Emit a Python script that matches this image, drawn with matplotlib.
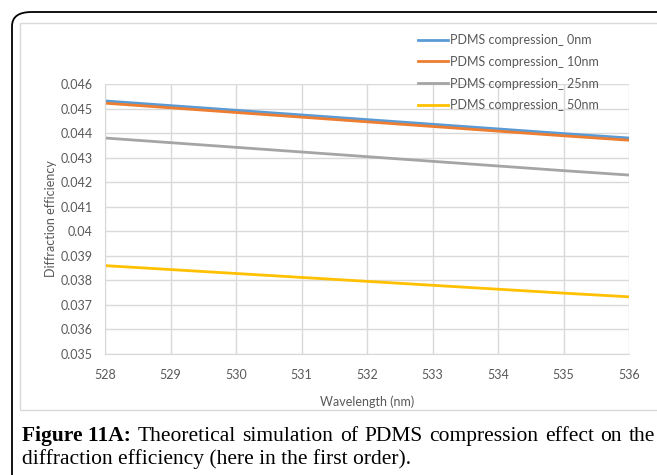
import matplotlib
matplotlib.use("Agg")
import matplotlib.pyplot as plt
from matplotlib.patches import FancyBboxPatch, Rectangle

wavelength = [528, 529, 530, 531, 532, 533, 534, 535, 536]
eff_0nm = [0.04531, 0.04512, 0.04493, 0.04474, 0.04455, 0.04436, 0.04417, 0.04398, 0.04380]
eff_10nm = [0.04522, 0.04503, 0.04484, 0.04465, 0.04446, 0.04427, 0.04408, 0.04389, 0.04371]
eff_25nm = [0.04380, 0.04361, 0.04342, 0.04323, 0.04304, 0.04285, 0.04266, 0.04247, 0.04229]
eff_50nm = [0.03860, 0.03844, 0.03828, 0.03812, 0.03796, 0.03780, 0.03764, 0.03748, 0.03733]
labels = ["PDMS compression_ 0nm", "PDMS compression_ 10nm",
          "PDMS compression_ 25nm", "PDMS compression_ 50nm"]
colors = ["#5B9BD5", "#ED7D31", "#A5A5A5", "#FFC000"]
yticks = [0.035, 0.036, 0.037, 0.038, 0.039, 0.04, 0.041, 0.042, 0.043, 0.044, 0.045, 0.046]
ytick_labels = ["0.035", "0.036", "0.037", "0.038", "0.039", "0.04", "0.041",
                "0.042", "0.043", "0.044", "0.045", "0.046"]
caption_bold = "Figure 11A:"
caption_line1_words = ["Theoretical", "simulation", "of", "PDMS", "compression",
                       "effect", "on", "the"]
caption_line2 = "diffraction efficiency (here in the first order)."

W, H = 657, 475
fig = plt.figure(figsize=(W / 100, H / 100), dpi=100)

# outer rounded border
outer = FancyBboxPatch((12 / W, -0.1), 1.2, (475 - 12) / H + 0.1,
                       boxstyle="round,pad=0,rounding_size=0.03",
                       transform=fig.transFigure, fill=False,
                       edgecolor="black", linewidth=1.3, zorder=0)
fig.add_artist(outer)
# inner chart frame
inner = Rectangle((20 / W, 1 - 410 / H), 1.2, (410 - 23) / H,
                  transform=fig.transFigure, fill=False,
                  edgecolor="#D9D9D9", linewidth=1.0, zorder=0)
fig.add_artist(inner)

ax = fig.add_axes([105 / W, 1 - 354 / H, (629 - 105) / W, (354 - 84) / H])
series = [eff_0nm, eff_10nm, eff_25nm, eff_50nm]
for s, lab, c in zip(series, labels, colors):
    ax.plot(wavelength, s, color=c, linewidth=2.0, label=lab)

ax.set_xlim(528, 536)
ax.set_ylim(0.035, 0.046)
ax.set_xticks(wavelength)
ax.set_xticklabels([str(w) for w in wavelength])
ax.set_yticks(yticks)
ax.set_yticklabels(ytick_labels)
ax.grid(True, color="#D9D9D9", linewidth=1.0)
ax.set_axisbelow(True)
for sp in ["top", "right"]:
    ax.spines[sp].set_visible(False)
for sp in ["left", "bottom"]:
    ax.spines[sp].set_color("#D9D9D9")
ax.tick_params(axis="y", length=0, labelsize=9, colors="#595959", pad=9)
ax.tick_params(axis="x", length=0, labelsize=9, colors="#595959", pad=11)
for t in ax.get_xticklabels() + ax.get_yticklabels():
    t.set_fontfamily("Lato")
ax.set_xlabel("Wavelength (nm)", fontsize=9, color="#595959", family="Lato", labelpad=10)
ax.set_ylabel("Diffraction efficiency", fontsize=9, color="#595959", family="Lato", labelpad=2)

leg = ax.legend(loc="upper left", bbox_to_anchor=(413 / W, 1 - 29 / H),
                bbox_transform=fig.transFigure, frameon=False,
                prop={"family": "Lato", "size": 9}, handlelength=2.4,
                handletextpad=0.15, labelspacing=0.78, borderaxespad=0)
for t in leg.get_texts():
    t.set_color("#595959")

# caption: first line justified across the box
fs = 15.5
renderer = fig.canvas.get_renderer()
y1 = 1 - 441 / H
items = [(caption_bold, "bold")] + [(w, "normal") for w in caption_line1_words]
texts = []
for s, wt in items:
    t = fig.text(0, y1, s, fontsize=fs, fontweight=wt, family="Liberation Serif",
                 va="baseline", ha="left")
    texts.append(t)
widths = [t.get_window_extent(renderer).width for t in texts]
x_start, x_end = 22.0, 655.0
gap = (x_end - x_start - sum(widths)) / (len(texts) - 1)
x = x_start
for t, w in zip(texts, widths):
    t.set_x(x / W)
    x += w + gap
fig.text(22 / W, 1 - 464 / H, caption_line2, fontsize=fs, family="Liberation Serif",
         va="baseline", ha="left")

fig.savefig("out.png", dpi=100)
